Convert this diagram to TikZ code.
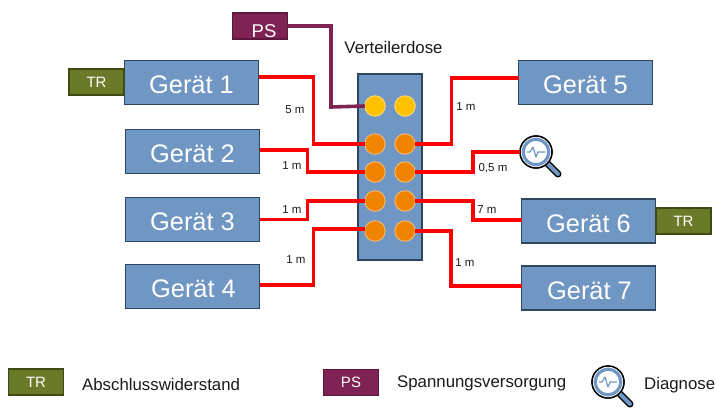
\documentclass[tikz,border=0pt]{standalone}
\usepackage{fontspec}
\setmainfont{Liberation Sans}
\definecolor{boxblue}{HTML}{7096C3}
\definecolor{boxline}{HTML}{2F4662}
\definecolor{olive}{HTML}{6B7A29}
\definecolor{oliveline}{HTML}{3F4A12}
\definecolor{purp}{HTML}{7F2355}
\definecolor{purpline}{HTML}{5C173C}
\definecolor{wirered}{HTML}{FF0000}
\definecolor{orangec}{HTML}{F08300}
\definecolor{yellowc}{HTML}{FFC000}
\definecolor{txt}{HTML}{1A1A1A}
\newcommand{\gtext}[1]{\smash{\raisebox{-11pt}{#1}}}
\tikzset{
  geraet/.style={draw=boxline,fill=boxblue,line width=1.5pt,minimum width=134pt,minimum height=44pt,inner sep=0pt,outer sep=0pt,text=white,font=\fontsize{25.4}{25.4}\selectfont},
  trbox/.style={draw=oliveline,fill=olive,line width=1.5pt,minimum width=55pt,minimum height=26pt,inner sep=0pt,outer sep=0pt,text=white,font=\fontsize{15}{15}\selectfont},
  psbox/.style={draw=purpline,fill=purp,line width=1.5pt,minimum width=55pt,minimum height=26pt,inner sep=0pt,outer sep=0pt,text=white,font=\fontsize{15}{15}\selectfont},
  port/.style={circle,draw=#1!55!white,fill=#1,line width=0.9pt,minimum size=20.5pt,inner sep=0pt,outer sep=0pt},
  wire/.style={draw=wirered,line width=3.6pt,line join=miter},
  pswire/.style={draw=purp,line width=3.6pt,line join=miter},
  len/.style={text=txt,inner sep=0pt,font=\fontsize{11.5}{11.5}\selectfont},
  legend/.style={text=txt,inner sep=0pt,anchor=west,font=\fontsize{16.8}{16.8}\selectfont},
  lens/.style={circle,draw=black,fill=white,line width=1.4pt,minimum size=32pt,inner sep=0pt,outer sep=0pt},
}
\newcommand{\lensdeco}[1]{%
  \draw[black,line width=7pt,line cap=round] ([shift={(10,10)}]#1.center) -- ([shift={(22,22)}]#1.center);
  \draw[boxblue,line width=4pt,line cap=round] ([shift={(12,12)}]#1.center) -- ([shift={(22,22)}]#1.center);
  \node[lens] at (#1.center) {};
  \draw[boxblue,line width=3.2pt] (#1.center) circle (12.8pt);
  \draw[boxblue,line width=1.2pt,line join=round] ([shift={(-9,0)}]#1.center) -- ++(3,0) -- ++(3,-5) -- ++(3,10) -- ++(2,-5) -- ++(7,0);
}
\begin{document}
\begin{tikzpicture}[x=1pt,y=-1pt]
\useasboundingbox (0,0) rectangle (716,408);
% distribution box
\node[draw=boxline,fill=boxblue,line width=1.5pt,minimum width=64pt,minimum height=186pt,inner sep=0pt,outer sep=0pt] (dose) at (390,167) {};
\node[text=txt,inner sep=0pt,font=\fontsize{16.8}{16.8}\selectfont] (dosetext) at (393.5,47) {Verteilerdose};
% ports
\node[port=yellowc] (p0a) at (375,106) {};
\node[port=yellowc] (p0b) at (405,106) {};
\node[port=orangec] (p1a) at (375,144) {};
\node[port=orangec] (p1b) at (405,144) {};
\node[port=orangec] (p2a) at (375,172) {};
\node[port=orangec] (p2b) at (405,172) {};
\node[port=orangec] (p3a) at (375,201) {};
\node[port=orangec] (p3b) at (405,201) {};
\node[port=orangec] (p4a) at (375,231) {};
\node[port=orangec] (p4b) at (405,231) {};
% devices
\node[geraet] (g1) at (191.5,82.5) {\gtext{Gerät 1}};
\node[geraet] (g2) at (192.5,151.5) {\gtext{Gerät 2}};
\node[geraet] (g3) at (192.5,219.5) {\gtext{Gerät 3}};
\node[geraet] (g4) at (192.5,286.5) {\hspace*{2pt}\gtext{Gerät 4}};
\node[geraet] (g5) at (585.5,82.5) {\gtext{Gerät 5}};
\node[geraet] (g6) at (588.5,221) {\gtext{Gerät 6}};
\node[geraet] (g7) at (588.5,288) {\hspace*{2pt}\gtext{Gerät 7}};
\node[trbox] (tr1) at (96.5,82) {TR};
\node[trbox] (tr2) at (683.5,221) {TR};
\node[psbox] (ps) at (260,26) {\fontsize{18.5}{18.5}\selectfont\hspace*{8pt}\smash{\raisebox{-11.5pt}{PS}}};
% diagnosis
\node[lens] (diag) at (536,152) {};
\lensdeco{diag}
% wires
\draw[wire] ([yshift=5.5pt]g1.east) -- ++(55,0) |- (p1a.west);
\draw[wire] ([yshift=1.5pt]g2.east) -- ++(48,0) |- (p2a.west);
\draw[wire] (g3.east) -- ++(48,0) |- (p3a.west);
\draw[wire] ([yshift=1.5pt]g4.east) -- ++(54,0) |- ([yshift=2pt]p4a.west);
\draw[wire] ([yshift=4.5pt]g5.west) -- ++(-67,0) |- (p1b.east);
\draw[wire] (p2b.east) -| (473,152) -- (diag.west);
\draw[wire] (p3b.east) -| (473,220) -- ([yshift=1pt]g6.west);
\draw[wire] (p4b.east) -| (451,286) -- ([yshift=2pt]g7.west);
\draw[pswire] (ps.east) -| (331,107) -- (p0a.west);
% length labels
\node[len] (l1) at (295,110) {5 m};
\node[len] (l2) at (292,166) {1 m};
\node[len] (l3) at (292,210) {1 m};
\node[len] (l4) at (296,260) {1 m};
\node[len] (l5) at (466,107) {1 m};
\node[len] (l6) at (493,168) {0,5 m};
\node[len] (l7) at (487,210) {7 m};
\node[len] (l8) at (465,263) {1 m};
% legend
\node[trbox] (ltr) at (36,382) {TR};
\node[legend] (ltrt) at (82,384) {Abschlusswiderstand};
\node[psbox] (lps) at (351,382.5) {PS};
\node[legend] (lpst) at (397,383) {Spannungsversorgung};
\node[lens] (ldiag) at (608,382) {};
\lensdeco{ldiag}
\node[legend] (ldiagt) at (644,385) {Diagnose};
\end{tikzpicture}
\end{document}
